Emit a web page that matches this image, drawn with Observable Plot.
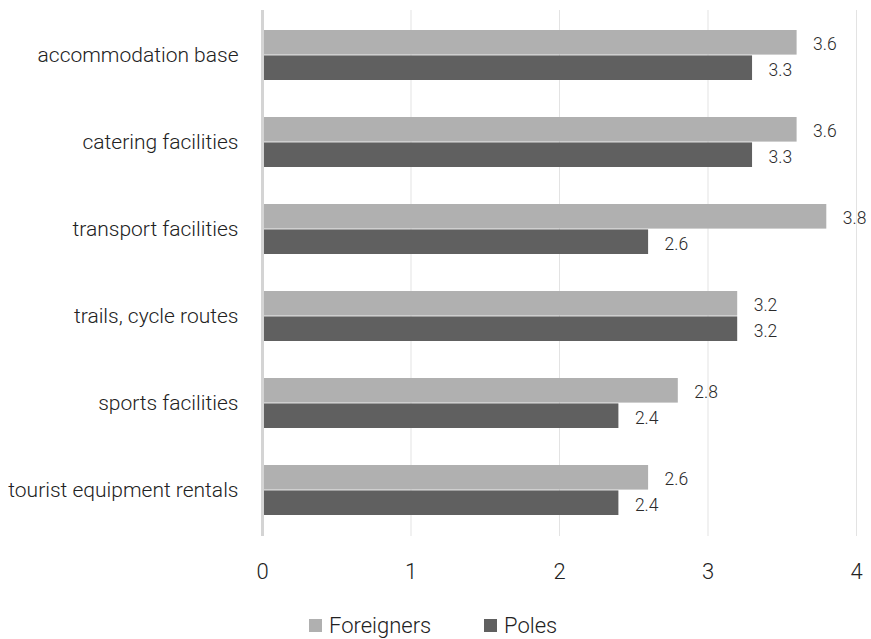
<!DOCTYPE html>
<html>
<head>
<meta charset="utf-8">
<script src="https://cdn.jsdelivr.net/npm/d3@7"></script>
<script src="https://cdn.jsdelivr.net/npm/@observablehq/plot@0.6"></script>
<style>
  body { margin: 0; background: #fff; font-family: Roboto, "Liberation Sans", sans-serif; }
  #chart { width: 871px; }
  .legend { margin-top: 18px; font-size: 22px; font-weight: 300; color: #222; }
  .legend .item { display: flex; align-items: center; position: absolute; top: 0; }
  .legend .sw { width: 13px; height: 13px; margin-right: 7px; }
</style>
</head>
<body>
<div id="chart"></div>
<script>
const categories = ["accommodation base", "catering facilities", "transport facilities", "trails, cycle routes", "sports facilities", "tourist equipment rentals"];
const foreigners = [3.6, 3.6, 3.8, 3.2, 2.8, 2.6];
const poles = [3.3, 3.3, 2.6, 3.2, 2.4, 2.4];
const seriesNames = ["Foreigners", "Poles"];
const seriesColors = ["#b0b0b0", "#606060"];
const xTicks = [0, 1, 2, 3, 4];

const dataF = categories.map((c, i) => ({category: c, value: foreigners[i]}));
const dataP = categories.map((c, i) => ({category: c, value: poles[i]}));

const half = 25.4;

const plot = Plot.plot({
  width: 871,
  height: 595,
  marginLeft: 262,
  marginRight: 15,
  marginTop: 10,
  marginBottom: 59,
  style: {fontFamily: "Roboto, 'Liberation Sans', sans-serif", fontSize: "21px", fontWeight: 300, color: "#222", background: "#fff"},
  x: {domain: [0, 4], ticks: xTicks, tickFormat: "d", tickSize: 0, tickPadding: 27, label: null},
  y: {domain: categories, paddingInner: 0.42, paddingOuter: 0.21, tickSize: 0, tickPadding: 24, label: null},
  marks: [
    Plot.ruleX(xTicks.filter(d => d > 0), {stroke: "#e3e3e3", strokeWidth: 1}),
    Plot.barX(dataF, {y: "category", x: "value", fill: seriesColors[0], insetBottom: half}),
    Plot.barX(dataP, {y: "category", x: "value", fill: seriesColors[1], insetTop: half}),
    Plot.ruleX([0], {stroke: "#d4d4d4", strokeWidth: 3}),
    Plot.text(dataF, {y: "category", x: "value", text: d => d.value.toFixed(1), textAnchor: "start", dx: 16, dy: -half / 2 + 2, fill: "#2a2a2a", fontSize: 17.5}),
    Plot.text(dataP, {y: "category", x: "value", text: d => d.value.toFixed(1), textAnchor: "start", dx: 16, dy: half / 2 + 2, fill: "#2a2a2a", fontSize: 17.5})
  ]
});
document.getElementById("chart").appendChild(plot);
plot.querySelectorAll("g[aria-label='x-axis tick label'] text, g[aria-label='x-axis tick label']").forEach(el => el.setAttribute("font-size", "22"));

const legend = document.createElement("div");
legend.className = "legend";
legend.style.position = "relative";
legend.style.height = "26px";
const positions = [309, 484];
seriesNames.forEach((name, i) => {
  const item = document.createElement("div");
  item.className = "item";
  item.style.left = positions[i] + "px";
  const sw = document.createElement("span");
  sw.className = "sw";
  sw.style.background = seriesColors[i];
  const label = document.createElement("span");
  label.textContent = name;
  item.appendChild(sw);
  item.appendChild(label);
  legend.appendChild(item);
});
document.body.appendChild(legend);
</script>
</body>
</html>
